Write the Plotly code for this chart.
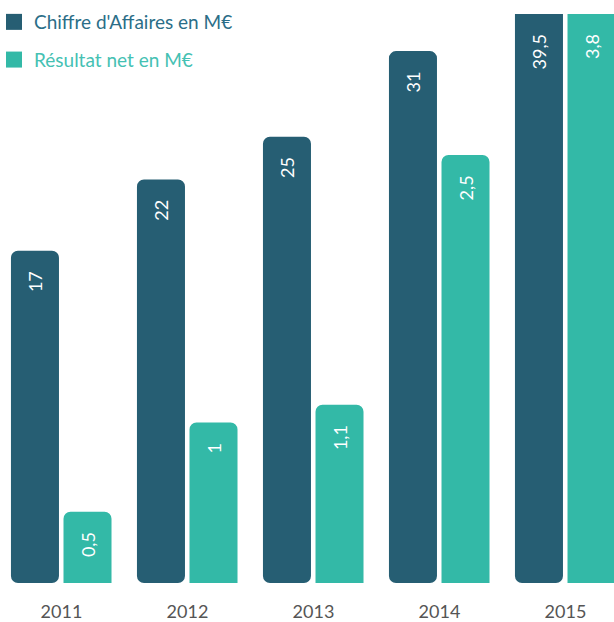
import plotly.graph_objects as go

years = ["2011", "2012", "2013", "2014", "2015"]
chiffre_affaires = [17, 22, 25, 31, 39.5]
resultat_net = [0.5, 1, 1.1, 2.5, 3.8]
name_ca = "Chiffre d'Affaires en M€"
name_rn = "Résultat net en M€"

C_CA = "#265e73"
C_RN = "#33b9a7"
FONT = "Lato, 'Open Sans', sans-serif"
PAD = "\u2002\u2005"
LABEL_FONT = dict(color="white", size=18, family=FONT)

BAR_W = 0.381
OFF_CA = -0.401
OFF_RN = 0.016
CA_RANGE = [-6.3, 33.6]
RN_RANGE = [0.1, 3.29]

def fr(v):
    return (f"{v:g}").replace(".", ",")

fig = go.Figure()
fig.add_trace(go.Bar(
    x=years, y=[v - CA_RANGE[0] for v in chiffre_affaires], base=CA_RANGE[0],
    marker=dict(color=C_CA, cornerradius=7, line=dict(width=0)),
    text=[fr(v) + PAD if v <= CA_RANGE[1] else "" for v in chiffre_affaires],
    textposition="inside", insidetextanchor="end", textangle=-90,
    textfont=LABEL_FONT,
    width=BAR_W, offset=OFF_CA, yaxis="y", showlegend=False,
    customdata=chiffre_affaires, hovertemplate="%{x}: %{customdata}<extra></extra>",
))
fig.add_trace(go.Bar(
    x=years, y=resultat_net,
    marker=dict(color=C_RN, cornerradius=7, line=dict(width=0)),
    text=[fr(v) + PAD if v <= RN_RANGE[1] else "" for v in resultat_net],
    textposition="inside", insidetextanchor="end", textangle=-90,
    textfont=LABEL_FONT,
    width=BAR_W, offset=OFF_RN, yaxis="y2", showlegend=False,
    hovertemplate="%{x}: %{y}<extra></extra>",
))

# labels of bars that reach the top of the chart
for vals, rng, off in ((chiffre_affaires, CA_RANGE, OFF_CA), (resultat_net, RN_RANGE, OFF_RN)):
    for i, v in enumerate(vals):
        if v > rng[1]:
            fig.add_annotation(
                x=i + off + BAR_W / 2, xref="x", y=1, yref="paper",
                yanchor="top", xanchor="center", yshift=-18,
                text=fr(v), textangle=-90, showarrow=False, font=LABEL_FONT,
            )

# legend entries
fig.add_trace(go.Scatter(x=[None], y=[None], mode="markers",
    marker=dict(symbol="square", size=16, color=C_CA),
    name=f'<span style="color:#2b6e88">{name_ca}</span>', legendgroup="a"))
fig.add_trace(go.Scatter(x=[None], y=[None], mode="markers",
    marker=dict(symbol="square", size=16, color=C_RN),
    name=f'<span style="color:#45c1b3">{name_rn}</span>', legendgroup="b"))

fig.update_layout(
    width=614, height=622,
    margin=dict(l=0, r=0, t=14, b=39),
    paper_bgcolor="white", plot_bgcolor="white",
    font=dict(family=FONT),
    barmode="group",
    showlegend=True,
    legend=dict(x=0, y=1.0193, xanchor="left", yanchor="top", indentation=-6,
                font=dict(size=19, family=FONT), tracegroupgap=10,
                bgcolor="rgba(0,0,0,0)", itemclick=False),
    xaxis=dict(type="category", range=[-0.488, 4.385], showgrid=False,
               showline=False, zeroline=False, ticks="",
               tickfont=dict(size=18, color="#555555", family=FONT),
               ticklabelstandoff=16),
    yaxis=dict(range=CA_RANGE, visible=False, showgrid=False, zeroline=False),
    yaxis2=dict(range=RN_RANGE, overlaying="y", visible=False,
                showgrid=False, zeroline=False),
)

fig.write_html(
    "out.html",
    config={"displayModeBar": False},
    post_script="document.body.style.margin='0px';document.body.style.overflow='hidden';",
)
